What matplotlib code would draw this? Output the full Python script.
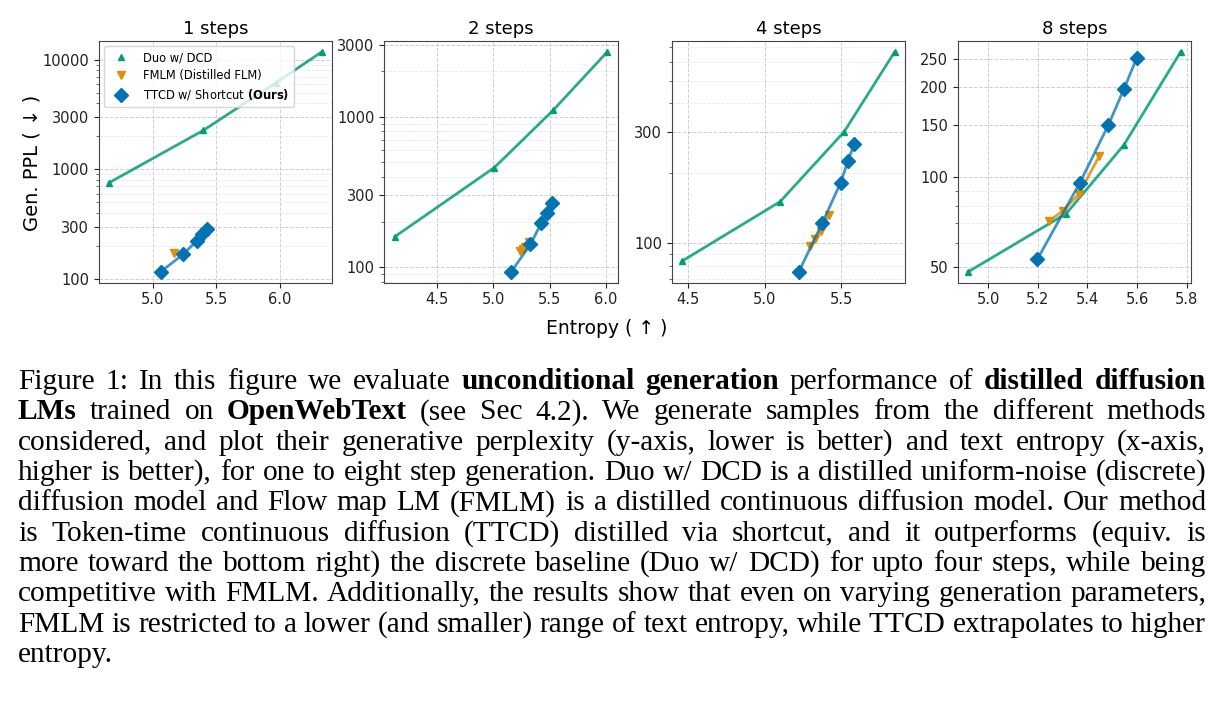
import matplotlib
matplotlib.use("Agg")
import matplotlib.pyplot as plt
from matplotlib.ticker import NullFormatter, FixedLocator, FixedFormatter

# ---------------- data ----------------
step_titles = ["1 steps", "2 steps", "4 steps", "8 steps"]

duo_entropy = [[4.66, 5.40, 5.97, 6.33],
               [4.13, 5.01, 5.53, 6.01],
               [4.46, 5.10, 5.52, 5.85],
               [4.92, 5.315, 5.547, 5.776]]
duo_ppl = [[755, 2265, 6150, 11760],
           [160, 459, 1100, 2685],
           [84, 151, 302, 665],
           [48.1, 75.4, 128, 263]]

fmlm_entropy = [[5.17],
                [5.242, 5.263, 5.283, 5.316],
                [5.297, 5.33, 5.369, 5.419],
                [5.245, 5.302, 5.366, 5.449]]
fmlm_ppl = [[171],
            [128.5, 132.5, 136, 148],
            [97, 104, 113.5, 133],
            [71.1, 77.1, 87.7, 118]]

ttcd_entropy = [[5.065, 5.24, 5.35, 5.393, 5.432],
                [5.16, 5.33, 5.425, 5.475, 5.519],
                [5.223, 5.376, 5.496, 5.544, 5.585],
                [5.198, 5.37, 5.485, 5.547, 5.60]]
ttcd_ppl = [[116, 167, 223, 254, 286],
            [93.6, 142, 196, 231, 268],
            [75.5, 122, 182, 225, 267],
            [52.9, 95.7, 149.7, 197, 252]]

y_ticks = [[100, 300, 1000, 3000, 10000],
           [100, 300, 1000, 3000],
           [100, 300],
           [50, 100, 150, 200, 250]]
x_ticks = [[5.0, 5.5, 6.0],
           [4.5, 5.0, 5.5, 6.0],
           [4.5, 5.0, 5.5],
           [5.0, 5.2, 5.4, 5.6, 5.8]]

labels = ["Duo w/ DCD", "FMLM (Distilled FLM)", r"TTCD w/ Shortcut $\bf{(Ours)}$"]

caption = [
    [("Figure 1: In this figure we evaluate", False), ("unconditional generation", True),
     ("performance of", False), ("distilled diffusion", True)],
    [("LMs", True), ("trained on", False), ("OpenWebText", True),
     ("(see Sec 4.2).  We generate samples from the different methods", False)],
    [("considered, and plot their generative perplexity (y-axis, lower is better) and text entropy (x-axis,", False)],
    [("higher is better), for one to eight step generation. Duo w/ DCD is a distilled uniform-noise (discrete)", False)],
    [("diffusion model and Flow map LM (FMLM) is a distilled continuous diffusion model. Our method", False)],
    [("is Token-time continuous diffusion (TTCD) distilled via shortcut, and it outperforms (equiv.  is", False)],
    [("more toward the bottom right) the discrete baseline (Duo w/ DCD) for upto four steps, while being", False)],
    [("competitive with FMLM. Additionally, the results show that even on varying generation parameters,", False)],
    [("FMLM is restricted to a lower (and smaller) range of text entropy, while TTCD extrapolates to higher", False)],
    [("entropy.", False)],
]

# ---------------- style ----------------
c_duo = "#029e73"
c_fmlm = "#de8f05"
c_ttcd = "#0173b2"

W, H = 1224, 708
fig = plt.figure(figsize=(W / 100, H / 100), dpi=100)

lefts = [98.7, 384.3, 671.7, 957.7]
ax_w = 233.5
ax_top = 41.0
ax_bot = 282.7

for i in range(4):
    ax = fig.add_axes([lefts[i] / W, 1 - ax_bot / H, ax_w / W, (ax_bot - ax_top) / H])
    ax.set_yscale("log")
    ax.plot(duo_entropy[i], duo_ppl[i], color=c_duo, lw=2, alpha=0.85, zorder=2)
    ax.plot(duo_entropy[i], duo_ppl[i], ls="none", marker="^", ms=5, color=c_duo,
            label=labels[0], zorder=3)
    ax.plot(fmlm_entropy[i], fmlm_ppl[i], color=c_fmlm, lw=2, alpha=0.85, zorder=4)
    ax.plot(fmlm_entropy[i], fmlm_ppl[i], ls="none", marker="v", ms=6, color=c_fmlm,
            label=labels[1], zorder=5)
    ax.plot(ttcd_entropy[i], ttcd_ppl[i], color=c_ttcd, lw=2, alpha=0.75, zorder=6)
    ax.plot(ttcd_entropy[i], ttcd_ppl[i], ls="none", marker="D", ms=6.8, color=c_ttcd,
            label=labels[2], zorder=7)

    ax.yaxis.set_major_locator(FixedLocator(y_ticks[i]))
    ax.yaxis.set_major_formatter(FixedFormatter([str(v) for v in y_ticks[i]]))
    ax.yaxis.set_minor_formatter(NullFormatter())
    ax.set_xticks(x_ticks[i])
    ax.set_xticklabels([f"{v:.1f}" for v in x_ticks[i]])
    ax.tick_params(labelsize=10.5, colors="#222222")
    ax.tick_params(which="minor", colors="#555555")
    ax.grid(True, which="major", ls="--", lw=0.7, color="#bbbbbb", alpha=0.7)
    ax.grid(True, which="minor", ls="--", lw=0.6, color="#dddddd", alpha=0.6)
    for s in ax.spines.values():
        s.set_color("#444444")
    ax.set_title(step_titles[i], fontsize=13, pad=5)
    if i == 0:
        ax.legend(loc="upper left", fontsize=8.3, handletextpad=0.9, borderpad=0.45,
                  labelspacing=0.42, borderaxespad=0.45)

fig.text(32 / W, 1 - 163 / H, "Gen. PPL ( \u2193 )", rotation=90, fontsize=14,
         ha="center", va="center")
fig.text(607 / W, 1 - 329 / H, "Entropy ( \u2191 )", fontsize=13.5,
         ha="center", va="center")

# ---------------- caption (justified) ----------------
renderer = fig.canvas.get_renderer()
fam = "Liberation Serif"
x0, x1 = 18.0, 1206.0
base0, dy = 389.0, 30.35


def word_width(w, bold, fs):
    t = fig.text(0, 0, w, fontsize=fs, family=fam, weight="bold" if bold else "normal")
    bb = t.get_window_extent(renderer)
    t.remove()
    return bb.width


def split_words(segs):
    out = []
    for txt, b in segs:
        for w in txt.split():
            out.append((w, b))
    return out


# choose font size so that the widest justified line fits at natural spacing
fs0 = 18.0
sp0 = word_width("a a", False, fs0) - word_width("aa", False, fs0)
max_nat = 0
for segs in caption[:-1]:
    words = split_words(segs)
    nat = sum(word_width(w, b, fs0) for w, b in words) + sp0 * 0.9 * (len(words) - 1)
    max_nat = max(max_nat, nat)
fs = fs0 * (x1 - x0) / max_nat
space_w = word_width("a a", False, fs) - word_width("aa", False, fs)

for li, segs in enumerate(caption):
    words = split_words(segs)
    widths = [word_width(w, b, fs) for w, b in words]
    if li < len(caption) - 1 and len(words) > 1:
        gap = (x1 - x0 - sum(widths)) / (len(words) - 1)
    else:
        gap = space_w
    x = x0
    yb = base0 + li * dy
    for (w, b), wd in zip(words, widths):
        fig.text(x / W, 1 - yb / H, w, fontsize=fs, family=fam,
                 weight="bold" if b else "normal", ha="left", va="baseline")
        x += wd + gap

fig.savefig("out.png", dpi=100)
